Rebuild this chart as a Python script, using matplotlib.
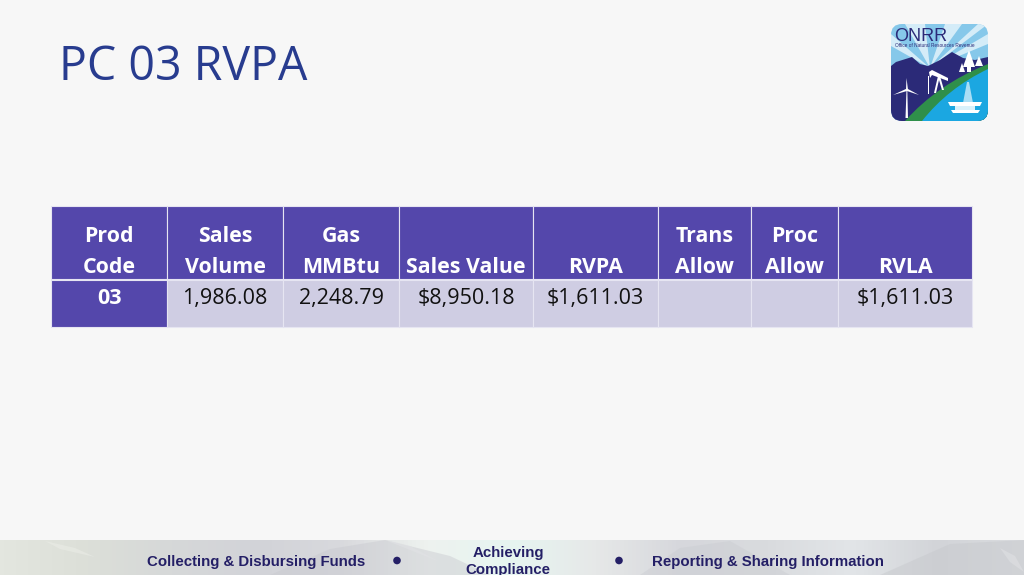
"""PC 03 RVPA slide: title, one-row table, logo and footer band, drawn in pixel coordinates."""
import matplotlib
matplotlib.use("Agg")
import matplotlib.pyplot as plt
import numpy as np
from matplotlib.colors import LinearSegmentedColormap
from matplotlib.patches import Circle, FancyBboxPatch, PathPatch, Polygon, Rectangle
from matplotlib.path import Path

TITLE = "PC 03 RVPA"
HEADERS = ["Prod\nCode", "Sales\nVolume", "Gas\nMMBtu", "Sales Value", "RVPA",
           "Trans\nAllow", "Proc\nAllow", "RVLA"]
ROW_VALUES = ["03", "1,986.08", "2,248.79", "$8,950.18", "$1,611.03", "", "", "$1,611.03"]
FOOTER_LEFT = "Collecting & Disbursing Funds"
FOOTER_MID = ["Achieving", "Compliance"]
FOOTER_RIGHT = "Reporting & Sharing Information"

COL_EDGES = [51, 166.5, 282.5, 398.5, 532.5, 657.5, 750.5, 837.5, 972]
HEAD_TOP, HEAD_BOT, ROW_BOT = 206, 279, 327

BG = "#f7f7f7"
PURPLE = "#5447ab"
LILAC = "#cfcde3"
TITLE_BLUE = "#283c8f"
NAVY = "#241f66"
SANS = ["Liberation Sans", "DejaVu Sans"]

plt.rcParams["font.family"] = ["Open Sans", "DejaVu Sans"]

fig = plt.figure(figsize=(10.24, 5.75), dpi=100, facecolor=BG)
ax = fig.add_axes([0, 0, 1, 1])
ax.set_xlim(0, 1024)
ax.set_ylim(575, 0)
ax.axis("off")


def draw_footer():
    stops = ["#e3e6df", "#dcdfd8", "#d6d8d8", "#d2d3d8", "#d8d9dd", "#eef2ef", "#e6f5f1",
             "#e6e8e8", "#d6d7dc", "#d9dbde", "#e2e5e8", "#d2d4d8", "#dadcdf"]
    cmap = LinearSegmentedColormap.from_list("band", stops)
    ax.imshow(np.linspace(0, 1, 256)[None, :], cmap=cmap, aspect="auto",
              extent=(0, 1024, 575, 540), zorder=1)
    ridges = [
        ([270, 330, 385, 450, 490, 270], [575, 549, 540, 556, 575, 575], "#c8c9cf", 0.45),
        ([640, 680, 730, 790, 640], [575, 548, 541, 575, 575], "#c9cbd0", 0.4),
        ([880, 950, 1024, 1024, 880], [575, 544, 540, 575, 575], "#c6c8cc", 0.45),
        ([45, 75, 95, 60], [541, 548, 557, 549], "#eceee8", 0.5),
        ([385, 410, 440, 415], [540, 546, 562, 552], "#e2e3e6", 0.5),
        ([1000, 1015, 1024, 1010], [548, 556, 572, 562], "#e2e3e6", 0.5),
    ]
    for xs, ys, col, alpha in ridges:
        ax.add_patch(Polygon(np.column_stack([xs, ys]), fc=col, ec="none", alpha=alpha, zorder=2))
    ax.set_xlim(0, 1024)
    ax.set_ylim(575, 0)

    kw = dict(family=SANS, color=NAVY, weight="bold", fontsize=10.8, zorder=4, va="baseline")
    ax.text(256, 566, FOOTER_LEFT, ha="center", **kw)
    ax.text(652, 566, FOOTER_RIGHT, ha="left", **kw)
    ax.text(508, 557, FOOTER_MID[0], ha="center", **kw)
    ax.text(508, 574, FOOTER_MID[1], ha="center", **kw)
    for cx in (397, 619):
        ax.add_patch(Circle((cx, 560.5), 3.8, fc=NAVY, ec="none", zorder=4))


def draw_logo():
    box = FancyBboxPatch((891, 24), 97, 97, boxstyle="round,pad=0,rounding_size=11",
                         fc="#86c8ea", ec="none", zorder=3)
    ax.add_patch(box)

    def shape(points, color, z=4):
        patch = Polygon(points, fc=color, ec="none", zorder=z)
        ax.add_patch(patch)
        patch.set_clip_path(box)

    def hill(top_start, ctrl, top_end, corner, color, z):
        verts = [top_start, ctrl, top_end, (988, 121), corner, top_start]
        codes = [Path.MOVETO, Path.CURVE3, Path.CURVE3, Path.LINETO, Path.LINETO, Path.CLOSEPOLY]
        patch = PathPatch(Path(verts, codes), fc=color, ec="none", zorder=z)
        ax.add_patch(patch)
        patch.set_clip_path(box)

    # sky rays fan out from behind the mountains
    for end in ([(905, 24), (925, 24)], [(945, 24), (962, 24)], [(978, 24), (988, 24)],
                [(988, 34), (988, 44)], [(891, 34), (891, 46)]):
        shape([(930, 68)] + end, "#d4ecf8")
    shape([(891, 121), (891, 66), (896, 62), (912, 57), (920, 64), (928, 66), (940, 60),
           (952, 52), (963, 58), (975, 60), (988, 57), (988, 121)], "#2b2a78", 4)
    hill((905, 121), (938, 84), (988, 64), (905, 121), "#2f8f4a", 5)
    hill((922, 121), (948, 88), (988, 69), (922, 121), "#1ba7e1", 6)

    # wind turbine
    shape([(905.5, 118), (908, 118), (907.3, 90), (906.5, 90)], "white", 7)
    shape([(907, 88.5), (893, 95), (907, 91)], "white", 7)
    shape([(906, 90), (906.5, 78), (908, 90)], "white", 7)
    shape([(907, 88.5), (919, 95), (907, 91)], "white", 7)
    # pump jack
    shape([(929, 72), (932, 70), (948, 78), (948, 81), (932, 75), (930, 78)], "white", 7)
    shape([(938, 76), (940, 76), (944, 90), (942, 90), (939, 80), (936, 93), (934, 93)], "white", 7)
    shape([(927.5, 76), (929, 76), (929, 94), (927.5, 94)], "white", 7)
    # trees
    shape([(969, 50), (975, 67), (971, 67), (971, 72), (967, 72), (967, 67), (963, 67)], "white", 7)
    shape([(979, 56), (983, 66), (975, 66)], "white", 7)
    shape([(962, 63), (965, 72), (959, 72)], "white", 7)
    # platform
    shape([(967, 82), (969, 82), (973, 103), (963, 103)], "#a9def5", 7)
    shape([(948, 102), (982, 102), (980, 106), (950, 106)], "white", 8)
    shape([(955, 106), (975, 106), (975, 110), (955, 110)], "#d8f1fb", 8)
    shape([(951, 110), (980, 110), (978, 113), (953, 113)], "white", 8)

    ax.text(894, 41, "ONRR", family=SANS, fontsize=13, color="#2b2a78",
            ha="left", va="baseline", zorder=8)
    ax.text(895, 47, "Office of Natural Resources Revenue", family=SANS,
            fontsize=3.4, color="#2b2a78", ha="left", va="baseline", zorder=8)


def draw_table():
    for i, (head, val) in enumerate(zip(HEADERS, ROW_VALUES)):
        x0, x1 = COL_EDGES[i], COL_EDGES[i + 1]
        xc = (x0 + x1) / 2 + 0.5
        ax.add_patch(Rectangle((x0, HEAD_TOP), x1 - x0, HEAD_BOT - HEAD_TOP, fc=PURPLE,
                               ec="#e6e5f2", lw=0.8, zorder=2))
        ax.add_patch(Rectangle((x0, HEAD_BOT + 1), x1 - x0, ROW_BOT - HEAD_BOT - 1,
                               fc=PURPLE if i == 0 else LILAC, ec="#e6e5f2", lw=0.8, zorder=2))
        # header lines sit on fixed baselines, single-line heads use the lower one
        lines = head.split("\n")
        if len(lines) == 2:
            ax.text(xc, 241.7, lines[0], ha="center", va="baseline", color="white",
                    weight="bold", fontsize=15.4, zorder=3)
        ax.text(xc, 272.7, lines[-1], ha="center", va="baseline", color="white",
                weight="bold", fontsize=15.4, zorder=3)
        if val:
            ax.text(xc, 304, val, ha="center", va="baseline", fontsize=15.5, zorder=3,
                    color="white" if i == 0 else "#111111",
                    weight="bold" if i == 0 else "normal")


ax.text(59, 79.5, TITLE, ha="left", va="baseline", color=TITLE_BLUE, fontsize=33.5, zorder=3)
draw_footer()
draw_logo()
draw_table()

fig.savefig("out.png", dpi=100, facecolor=BG)
plt.close(fig)
